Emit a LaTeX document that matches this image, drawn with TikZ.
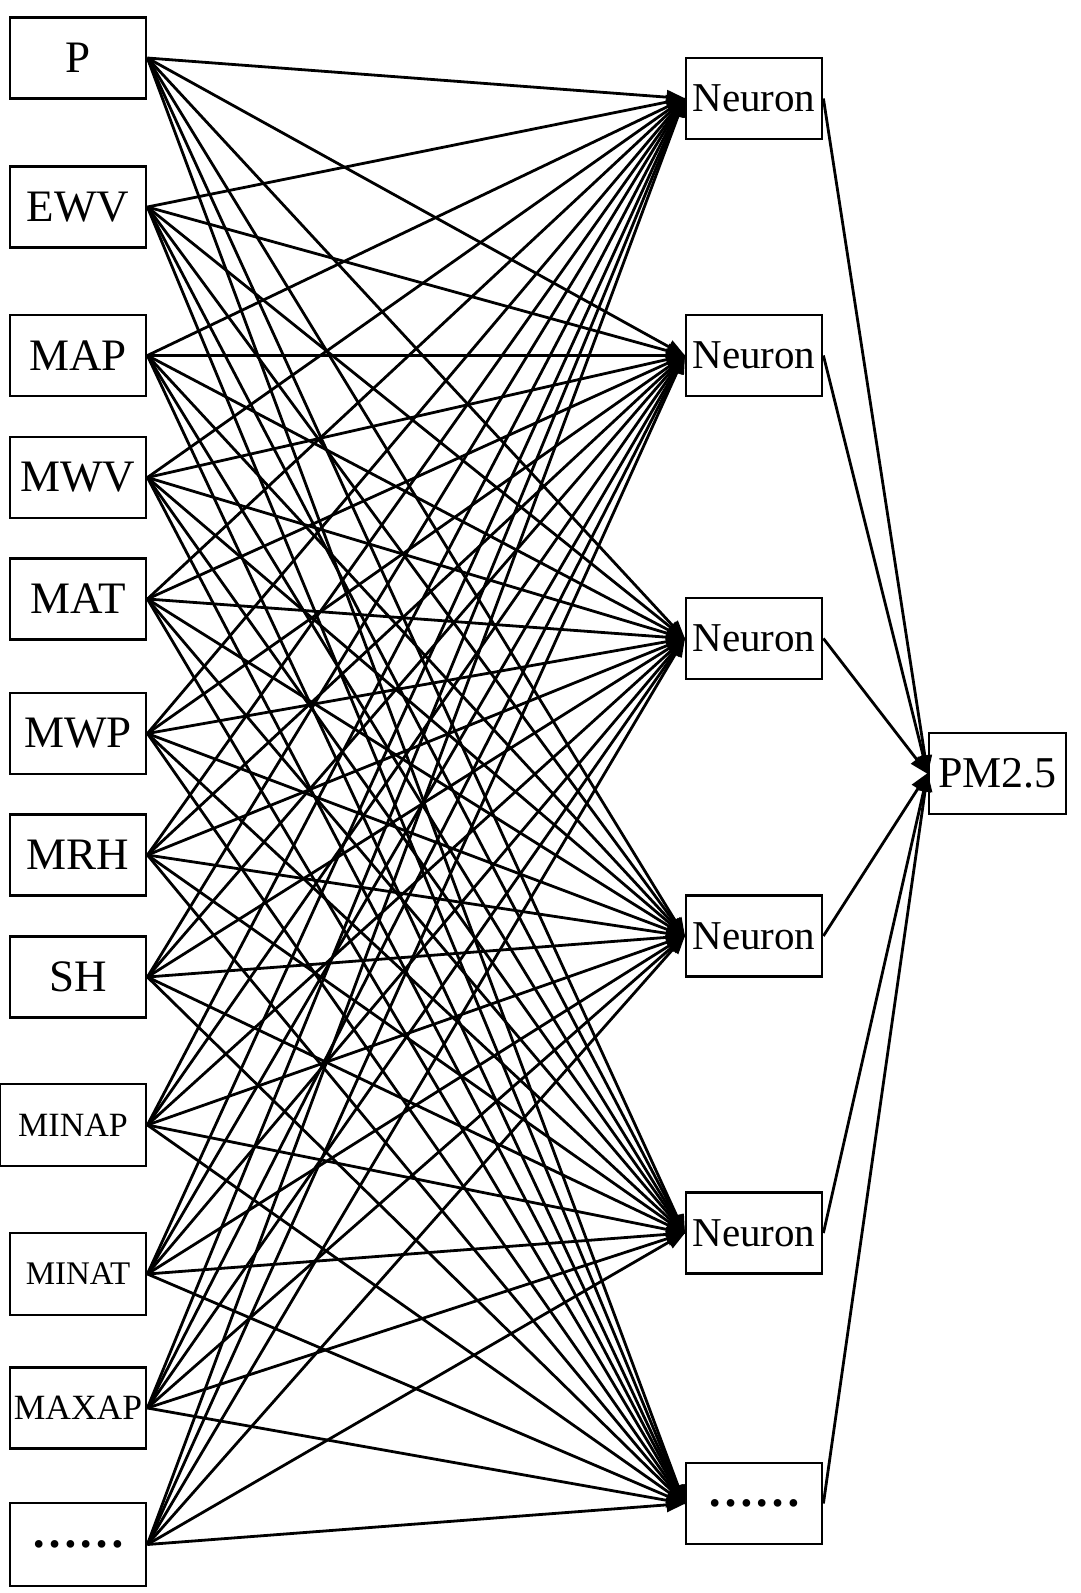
\documentclass[tikz,border=0pt]{standalone}
\usepackage{fontspec}
\setmainfont{Liberation Serif}
\usetikzlibrary{arrows.meta}
\begin{document}
\begin{tikzpicture}[x=1pt,y=-1pt,
  box/.style={draw, line width=2.8pt, inner sep=0pt, minimum width=136pt, minimum height=81pt, fill=white},
  big/.style={font=\fontsize{45}{50}\selectfont},
  dots/.style={font=\bfseries\fontsize{47}{50}\selectfont},
  conn/.style={line width=2.8pt, -{Triangle[length=19pt,width=14pt]}, shorten >=-1pt}
]
\useasboundingbox (0,0) rectangle (1080,1593);
% input boxes
\node[box,big] (i1) at (78,58) {P};
\node[box,big] (i2) at (78,207) {EWV};
\node[box,big] (i3) at (78,355.5) {MAP};
\node[box,big] (i4) at (78,477.5) {MWV};
\node[box,big] (i5) at (78,599) {MAT};
\node[box,big] (i6) at (78,733.5) {MWP};
\node[box,big] (i7) at (78,855) {MRH};
\node[box,big] (i8) at (78,977) {SH};
\node[box,minimum width=146pt,minimum height=82pt,font=\fontsize{34}{40}\selectfont] (i9) at (73,1125) {MINAP};
\node[box,minimum height=82pt,font=\fontsize{33}{40}\selectfont] (i10) at (78,1274) {MINAT};
\node[box,font=\fontsize{35.5}{40}\selectfont] (i11) at (78,1408) {MAXAP};
\node[box,dots,minimum height=83pt] (i12) at (78,1544.5) {……};
% hidden neurons
\node[box,font=\fontsize{41}{46}\selectfont] (n1) at (754,98.5) {Neuron};
\node[box,font=\fontsize{41}{46}\selectfont] (n2) at (754,355.5) {Neuron};
\node[box,font=\fontsize{41}{46}\selectfont] (n3) at (754,638.5) {Neuron};
\node[box,font=\fontsize{41}{46}\selectfont] (n4) at (754,936) {Neuron};
\node[box,font=\fontsize{41}{46}\selectfont] (n5) at (754,1233) {Neuron};
\node[box,dots] (n6) at (754,1503.5) {……};
% output
\node[box,minimum width=137pt,font=\fontsize{44}{50}\selectfont] (out) at (997.5,773.5) {PM2.5};
% connections
\foreach \i in {1,...,12}{
  \foreach \j in {1,...,6}{
    \draw[conn] (i\i.east) -- (n\j.west);
  }
}
\foreach \j in {1,...,6}{
  \draw[conn] (n\j.east) -- (out.west);
}
\end{tikzpicture}
\end{document}
